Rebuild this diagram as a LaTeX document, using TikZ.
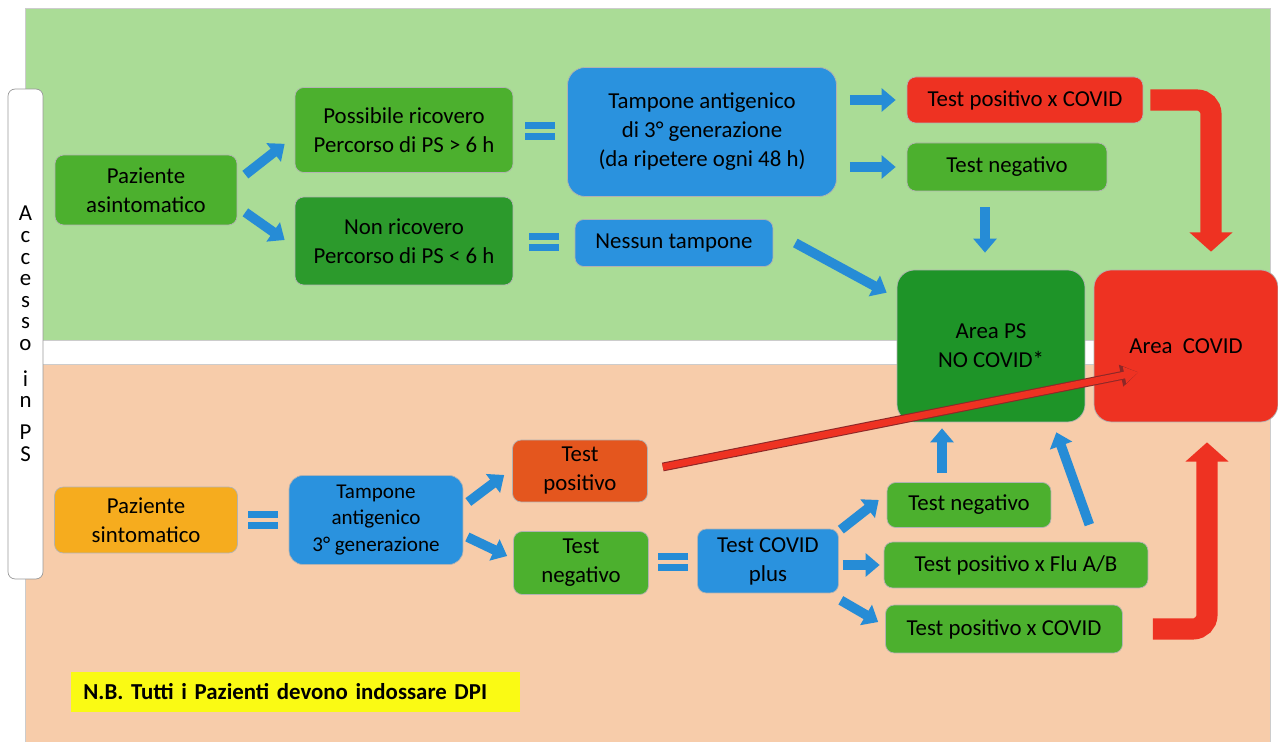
\documentclass[tikz,border=0pt]{standalone}
\usepackage{fontspec}
\setmainfont{Carlito}
\usepackage{tikz}
\usetikzlibrary{calc}
\usetikzlibrary{arrows.meta}

\definecolor{bggreen}{RGB}{170,220,150}
\definecolor{bgpeach}{RGB}{247,204,170}
\definecolor{boxgreen}{RGB}{76,176,46}
\definecolor{darkgreen}{RGB}{44,154,44}
\definecolor{areagreen}{RGB}{30,148,40}
\definecolor{boxblue}{RGB}{42,146,222}
\definecolor{arrowblue}{RGB}{38,140,214}
\definecolor{covidred}{RGB}{238,50,34}
\definecolor{darkred}{RGB}{140,40,40}
\definecolor{posorange}{RGB}{228,86,30}
\definecolor{sintorange}{RGB}{246,172,30}
\definecolor{noteyellow}{RGB}{250,250,20}

\tikzset{
    box/.style={rectangle,rounded corners=5pt,draw=black!30,line width=0.4pt,align=center,inner sep=2pt,font=\fontsize{13}{16.5}\selectfont},
    bluearrow/.style={draw=arrowblue,line width=5.5pt,-{Triangle[length=8pt,width=13pt]}},
    redarrow/.style={draw=covidred,line width=12pt,rounded corners=8pt,-{Triangle[length=11pt,width=24pt]}},
    thinred/.style={draw=covidred,line width=3.8pt,-{Triangle[length=8pt,width=9pt]},shorten >=0.8pt,
        preaction={draw=darkred,line width=5pt,-{Triangle[length=10pt,width=12pt]}}},
    eqsign/.pic={\fill[arrowblue] (-15,-9) rectangle (15,-2); \fill[arrowblue] (-15,2) rectangle (15,9);}
}

\begin{document}
\begin{tikzpicture}[x=0.02cm,y=-0.02cm]% one unit = one pixel of the scan, y down
        \useasboundingbox (0,0) rectangle (1278,742);
        \fill[white] (0,0) rectangle (1278,742);
        \filldraw[fill=bggreen,draw=black!20] (25,8) rectangle (1270,340);
        \filldraw[fill=bgpeach,draw=black!20] (25,364) rectangle (1270,742);
        \node[box,fill=white,draw=black!40,rounded corners=4pt,minimum width=0.7cm,minimum height=9.8cm,inner sep=0pt,font=\fontsize{13}{12.3}\selectfont] (accesso) at (25.5,334) {A\\c\\c\\e\\s\\s\\o\\[8pt]i\\n\\[6pt]P\\S};
        % asintomatico
        \node[box,fill=boxgreen,minimum width=3.64cm,minimum height=1.4cm] (asint) at (146,190) {Paziente\\asintomatico};
        \node[box,fill=boxgreen,minimum width=4.36cm,minimum height=1.7cm] (possib) at (404,130) {Possibile ricovero\\Percorso di PS > 6 h};
        \node[box,fill=darkgreen,minimum width=4.36cm,minimum height=1.76cm] (nonric) at (404,241) {Non ricovero\\Percorso di PS < 6 h};
        \node[box,fill=boxblue,rounded corners=10pt,minimum width=5.38cm,minimum height=2.58cm] (tamp1) at (702,132) {Tampone antigenico\\di 3° generazione\\(da ripetere ogni 48 h)};
        \node[box,fill=boxblue,minimum width=3.96cm,minimum height=0.94cm] (nessun) at (674,243) {Nessun tampone};
        \node[box,fill=covidred,minimum width=4.72cm,minimum height=0.92cm] (testpos1) at (1025,100) {Test positivo x COVID};
        \node[box,fill=boxgreen,minimum width=4cm,minimum height=0.96cm] (testneg1) at (1007,167) {Test negativo};
        \node[box,fill=areagreen,rounded corners=10pt,minimum width=3.76cm,minimum height=3.04cm] (areaps) at (991,346) {Area PS\\NO COVID*};
        \node[box,fill=covidred,rounded corners=10pt,minimum width=3.68cm,minimum height=3.04cm] (areacovid) at (1186,346) {Area\ \ COVID};
        % sintomatico
        \node[box,fill=sintorange,minimum width=3.66cm,minimum height=1.32cm] (sintom) at (146,520) {Paziente\\sintomatico};
        \node[box,fill=boxblue,rounded corners=8pt,minimum width=3.48cm,minimum height=1.78cm,font=\fontsize{12}{15}\selectfont] (tamp2) at (376,520) {Tampone\\antigenico\\3° generazione};
        \node[box,fill=posorange,minimum width=2.7cm,minimum height=1.24cm] (testpos2) at (580,471) {Test\\positivo};
        \node[box,fill=boxgreen,minimum width=2.7cm,minimum height=1.26cm] (testneg2) at (581,563) {Test\\negativo};
        \node[box,fill=boxblue,minimum width=2.82cm,minimum height=1.28cm] (covidplus) at (768,561) {Test COVID\\plus};
        \node[box,fill=boxgreen,minimum width=3.28cm,minimum height=0.9cm] (testnegR) at (969,505) {Test negativo};
        \node[box,fill=boxgreen,minimum width=5.28cm,minimum height=0.92cm] (flu) at (1016,565) {Test positivo x Flu A/B};
        \node[box,fill=boxgreen,minimum width=4.74cm,minimum height=0.96cm] (poscovid2) at (1004,629) {Test positivo x COVID};
        \node[fill=noteyellow,anchor=west,text width=8.5cm,inner xsep=0.24cm,minimum height=0.8cm,font=\bfseries\fontsize{13}{15}\selectfont] (note) at (71,692) {N.B. Tutti i Pazienti devono indossare DPI};
        % equal signs
        \pic at ($(possib.east)!.5!(tamp1.west)$) {eqsign};
        \pic at ($(nonric.east)!.5!(nessun.west)$) {eqsign};
        \pic at ($(sintom.east)!.5!(tamp2.west)$) {eqsign};
        \pic at ($(testneg2.east)!.5!(covidplus.west)$) {eqsign};
        % blue arrows
        \draw[bluearrow] ([shift={(8,20)}]asint.north east) -- ([shift={(-10,-29)}]possib.south west);
        \draw[bluearrow] ([shift={(8,-13)}]asint.south east) -- ([shift={(-10,-1)}]nonric.west);
        \draw[bluearrow] ([shift={(13,-32)}]tamp1.east) -- ([shift={(-11,0)}]testpos1.west);
        \draw[bluearrow] ([shift={(13,35)}]tamp1.east) -- ([shift={(-11,0)}]testneg1.west);
        \draw[bluearrow] ([shift={(-22,16)}]testneg1.south) -- ([shift={(-6,-17)}]areaps.north);
        \draw[bluearrow] ([shift={(22,0)}]nessun.east) -- ([shift={(-10,23)}]areaps.north west);
        \draw[bluearrow] ([shift={(5,-18)}]tamp2.east) -- ([shift={(-8,4)}]testpos2.west);
        \draw[bluearrow] ([shift={(4,17)}]tamp2.east) -- ([shift={(-6,-7)}]testneg2.west);
        \draw[bluearrow] ([shift={(2,1)}]covidplus.north east) -- ([shift={(-8,-5)}]testnegR.west);
        \draw[bluearrow] ([shift={(4,4)}]covidplus.east) -- ([shift={(-4,0)}]flu.west);
        \draw[bluearrow] ([shift={(2,7)}]covidplus.south east) -- ([shift={(-7,-7)}]poscovid2.west);
        \draw[bluearrow] ([shift={(-27,-9)}]testnegR.north) -- ([shift={(-49,6)}]areaps.south);
        \draw[bluearrow] ([shift={(-59,-17)}]flu.north east) -- ([shift={(-29,10)}]areaps.south east);
        % red arrows
        \draw[redarrow] ([shift={(7,0)}]testpos1.east) -| ([shift={(25,-18)}]areacovid.north);
        \draw[redarrow] ([shift={(30,0)}]poscovid2.east) -| ([shift={(21,20)}]areacovid.south);
        \draw[thinred] ([shift={(15,-4)}]testpos2.east) -- ([shift={(46,26)}]areacovid.west);
\end{tikzpicture}
\end{document}
